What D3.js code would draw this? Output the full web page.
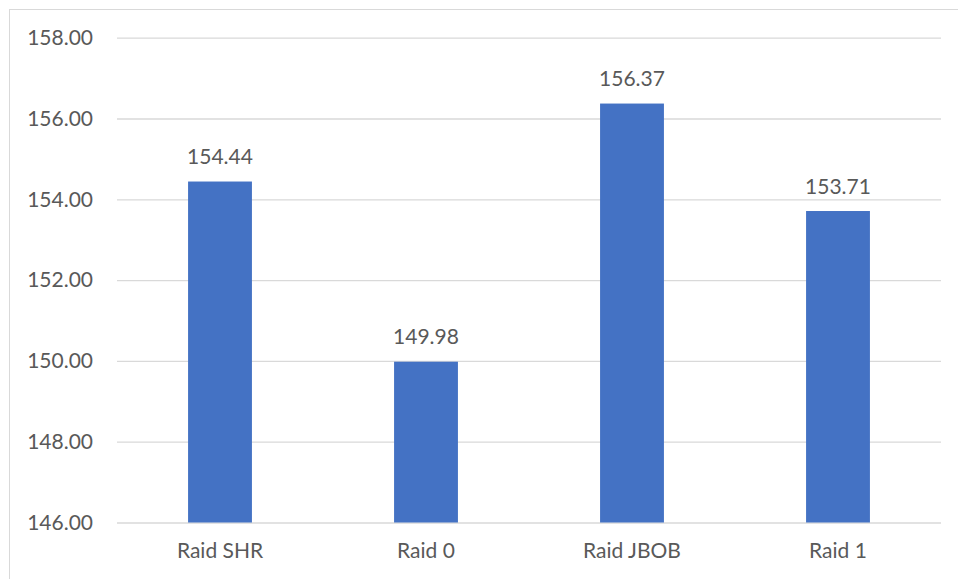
<!DOCTYPE html>
<html>
<head>
<meta charset="utf-8">
<script src="https://cdn.jsdelivr.net/npm/d3@7"></script>
<style>
  html, body { margin: 0; padding: 0; background: #fff; }
  svg { display: block; }
  text { font-family: Lato, "Open Sans", sans-serif; fill: #595959; }
</style>
</head>
<body>
<svg id="chart" width="958" height="579"></svg>
<script>
// Throughput per RAID mode
const categories = ["Raid SHR", "Raid 0", "Raid JBOB", "Raid 1"];
const values = [154.44, 149.98, 156.37, 153.71];
const tickValues = [146, 148, 150, 152, 154, 156, 158];

const W = 958, H = 579;
const margin = { left: 117, right: 17, top: 37.7, bottom: 56.5 };
const fontSize = "21px";

const svg = d3.select("#chart");

// Chart frame
svg.append("rect")
  .attr("x", 9.5).attr("y", 9.5)
  .attr("width", W).attr("height", H)
  .attr("fill", "none").attr("stroke", "#d9d9d9").attr("stroke-width", 1);

const x = d3.scaleBand()
  .domain(categories)
  .range([margin.left, W - margin.right])
  .paddingInner(0.69).paddingOuter(0.345);

const y = d3.scaleLinear()
  .domain([146, 158])
  .range([H - margin.bottom, margin.top]);

// Horizontal gridlines with value ticks
const yAxis = svg.append("g")
  .attr("transform", `translate(${margin.left},0)`)
  .call(d3.axisLeft(y).tickValues(tickValues).tickFormat(d3.format(".2f"))
    .tickSize(-(W - margin.right - margin.left)).tickPadding(24));
yAxis.select(".domain").remove();
yAxis.selectAll(".tick line").attr("stroke", "#d9d9d9").attr("stroke-width", 1.3);
yAxis.selectAll(".tick text").attr("font-size", fontSize).style("fill", "#595959");

// Bars
svg.append("g").selectAll("rect")
  .data(values)
  .join("rect")
  .attr("x", (d, i) => x(categories[i]))
  .attr("width", x.bandwidth())
  .attr("y", d => y(d))
  .attr("height", d => y(146) - y(d))
  .attr("fill", "#4472c4");

// Value labels
svg.append("g").selectAll("text")
  .data(values)
  .join("text")
  .attr("x", (d, i) => x(categories[i]) + x.bandwidth() / 2)
  .attr("y", d => y(d) - 17.5)
  .attr("text-anchor", "middle")
  .attr("font-size", fontSize)
  .text(d => d.toFixed(2));

// Category axis labels
const xAxis = svg.append("g")
  .attr("transform", `translate(0,${H - margin.bottom})`)
  .call(d3.axisBottom(x).tickSize(0).tickPadding(21));
xAxis.select(".domain").remove();
xAxis.selectAll(".tick text").attr("font-size", fontSize).style("fill", "#595959");
</script>
</body>
</html>
